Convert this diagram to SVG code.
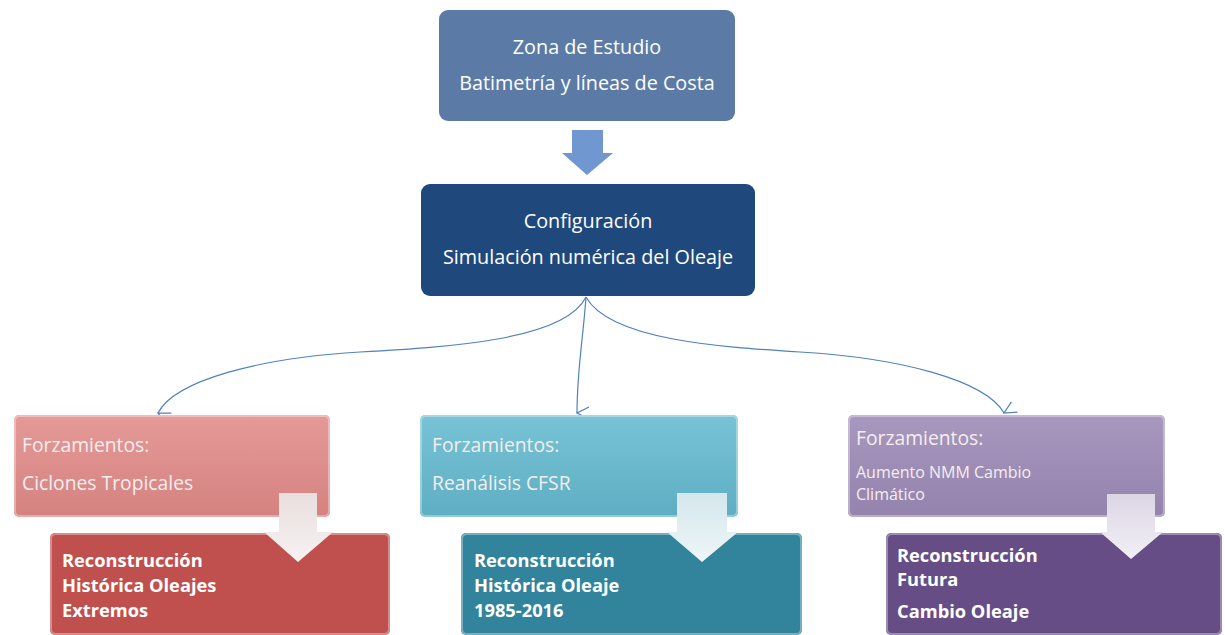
<svg xmlns="http://www.w3.org/2000/svg" width="1225" height="635" viewBox="0 0 1225 635">
<style>
.t{font-family:"Open Sans","Liberation Sans",sans-serif;fill:#ffffff;}
.top{font-size:19.8px;text-anchor:middle;}
.up{font-size:19.3px;fill:#f6eeee;}
.sm{font-size:16px;}
.low{font-size:18.3px;font-weight:bold;}
.conn{fill:none;stroke:#4f81bd;stroke-width:1.2;}
.bev{fill:none;stroke:#ffffff;stroke-opacity:0.35;stroke-width:2;}
</style>
<defs>
<marker id="ah" viewBox="0 0 14 14" refX="7" refY="13" markerWidth="14" markerHeight="14" markerUnits="userSpaceOnUse" orient="auto-start-reverse">
<path d="M1,1 L7,13 L13,1" fill="none" stroke="#4f81bd" stroke-width="1.2"/>
</marker>
<linearGradient id="gPink" x1="0" y1="0" x2="0" y2="1"><stop offset="0" stop-color="#e59a98"/><stop offset="1" stop-color="#d4827f"/></linearGradient>
<linearGradient id="gTeal" x1="0" y1="0" x2="0" y2="1"><stop offset="0" stop-color="#78c3d6"/><stop offset="1" stop-color="#5eaec3"/></linearGradient>
<linearGradient id="gPurp" x1="0" y1="0" x2="0" y2="1"><stop offset="0" stop-color="#a898bf"/><stop offset="1" stop-color="#9383ad"/></linearGradient>
<linearGradient id="gWhite" x1="0" y1="0" x2="0" y2="1"><stop offset="0" stop-color="#e9dede"/><stop offset="1" stop-color="#f7f2f2"/></linearGradient>
<linearGradient id="gWhiteT" x1="0" y1="0" x2="0" y2="1"><stop offset="0" stop-color="#d5e7ec"/><stop offset="1" stop-color="#eef6f8"/></linearGradient>
<linearGradient id="gWhiteP" x1="0" y1="0" x2="0" y2="1"><stop offset="0" stop-color="#dcd6e4"/><stop offset="1" stop-color="#f2eff6"/></linearGradient>
</defs>

<g id="connectors">
<path class="conn" d="M586,297 C565,340 450,347 360,352 C260,358 175,380 158,413" marker-end="url(#ah)"/>
<path class="conn" d="M586,297 C583,340 577,370 577,413" marker-end="url(#ah)"/>
<path class="conn" d="M586,297 C610,340 720,347 800,352 C900,358 985,380 1004,413" marker-end="url(#ah)"/>
</g>

<g id="zona">
<rect x="439" y="10" width="296" height="111" rx="9" fill="#5b7ba6"/>
<text class="t top" x="587" y="54">Zona de Estudio</text>
<text class="t top" x="587" y="90">Batimetría y líneas de Costa</text>
</g>

<g id="arrow-top">
<path d="M572,130 L603,130 L603,153 L613,153 L587,175 L562,153 L572,153 Z" fill="#7097cf"/>
</g>

<g id="config">
<rect x="421" y="184" width="334" height="112" rx="9" fill="#1f497d"/>
<text class="t top" x="588" y="228">Configuración</text>
<text class="t top" x="588" y="264">Simulación numérica del Oleaje</text>
</g>

<g id="forz-ciclones">
<rect x="14" y="415" width="316" height="102" rx="5" fill="url(#gPink)"/>
<rect x="15" y="416" width="314" height="100" rx="5" class="bev"/>
<text class="t up" x="22" y="452">Forzamientos:</text>
<text class="t up" x="22" y="490">Ciclones Tropicales</text>
</g>
<g id="rec-extremos">
<rect x="50" y="533" width="340" height="102" rx="5" fill="#c0504d"/>
<rect x="51" y="534" width="338" height="100" rx="5" class="bev"/>
<text class="t low" x="62" y="567">Reconstrucción</text>
<text class="t low" x="62" y="592">Histórica Oleajes</text>
<text class="t low" x="62" y="617">Extremos</text>
</g>
<g id="arrow-left">
<path d="M279,493 L317,493 L317,532 L333,532 L298,562 L264,532 L279,532 Z" fill="url(#gWhite)"/>
</g>

<g id="forz-cfsr">
<rect x="420" y="415" width="318" height="102" rx="5" fill="url(#gTeal)"/>
<rect x="421" y="416" width="316" height="100" rx="5" class="bev"/>
<text class="t up" x="432" y="452">Forzamientos:</text>
<text class="t up" x="432" y="490">Reanálisis CFSR</text>
</g>
<g id="rec-historica">
<rect x="461" y="533" width="341" height="102" rx="5" fill="#31849b"/>
<rect x="462" y="534" width="339" height="100" rx="5" class="bev"/>
<text class="t low" x="474" y="567">Reconstrucción</text>
<text class="t low" x="474" y="592">Histórica Oleaje</text>
<text class="t low" x="474" y="617">1985-2016</text>
</g>
<g id="arrow-mid">
<path d="M677,493 L727,493 L727,532 L738,532 L702,562 L667,532 L677,532 Z" fill="url(#gWhiteT)"/>
</g>

<g id="forz-cambio">
<rect x="848" y="415" width="317" height="102" rx="5" fill="url(#gPurp)"/>
<rect x="849" y="416" width="315" height="100" rx="5" class="bev"/>
<text class="t up" x="856" y="445">Forzamientos:</text>
<text class="t up sm" x="856" y="478">Aumento NMM Cambio</text>
<text class="t up sm" x="856" y="500">Climático</text>
</g>
<g id="rec-futura">
<rect x="886" y="533" width="336" height="102" rx="5" fill="#664d86"/>
<rect x="887" y="534" width="334" height="100" rx="5" class="bev"/>
<text class="t low" x="897" y="562">Reconstrucción</text>
<text class="t low" x="897" y="586">Futura</text>
<text class="t low" x="897" y="618">Cambio Oleaje</text>
</g>
<g id="arrow-right">
<path d="M1107,494 L1155,494 L1155,532 L1163,532 L1131,559 L1100,532 L1107,532 Z" fill="url(#gWhiteP)"/>
</g>
</svg>
